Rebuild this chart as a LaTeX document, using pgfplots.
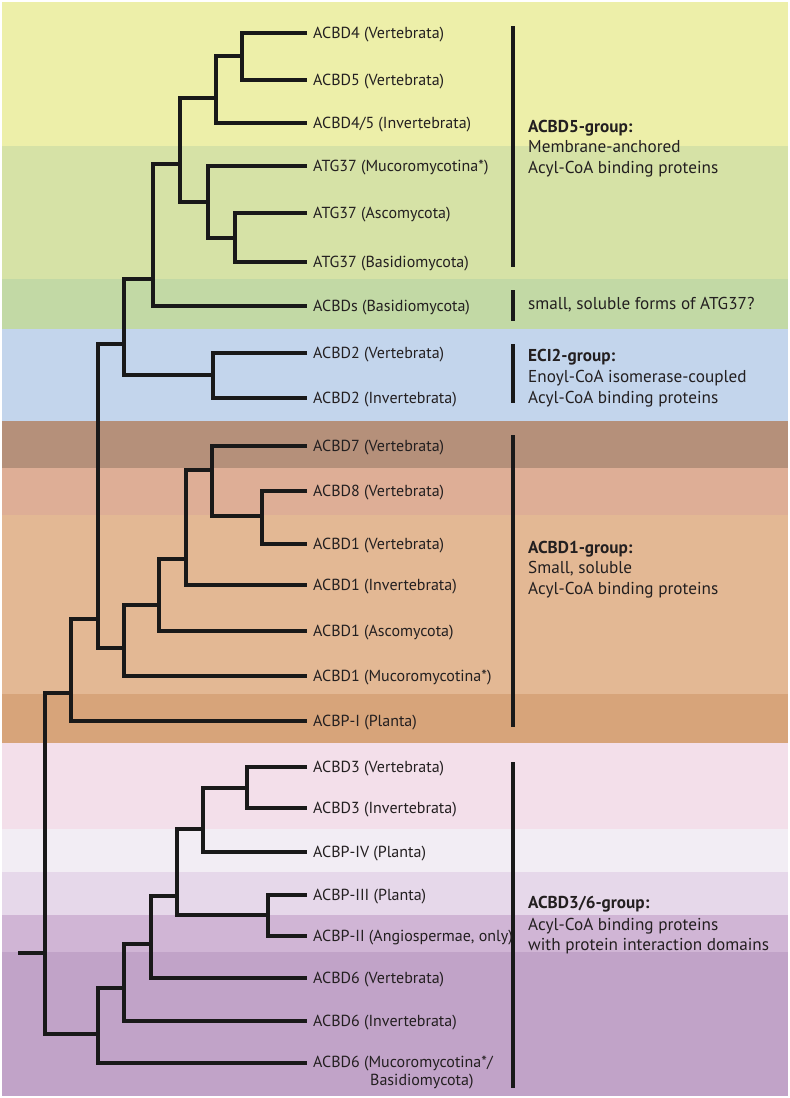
\documentclass[border=0pt]{standalone}
\usepackage{pgfplots}
\pgfplotsset{compat=1.18}
\usepackage{fontspec}
\setmainfont{PT Sans}
\definecolor{cyel}{HTML}{EDEFA9}
\definecolor{cgrA}{HTML}{D6E2A6}
\definecolor{cgrB}{HTML}{C2D9A5}
\definecolor{cblu}{HTML}{C3D5EC}
\definecolor{cbrn}{HTML}{B5907A}
\definecolor{csal}{HTML}{DEAE96}
\definecolor{clor}{HTML}{E3B894}
\definecolor{cora}{HTML}{D7A47A}
\definecolor{cpnk}{HTML}{F3DFEA}
\definecolor{clvA}{HTML}{F2EDF4}
\definecolor{clvB}{HTML}{E6D8EA}
\definecolor{cpuA}{HTML}{D0B5D5}
\definecolor{cpuB}{HTML}{C1A3C8}
\definecolor{ctxt}{HTML}{231F20}
\begin{document}
\begin{tikzpicture}
\begin{axis}[
  x=1pt, y=1pt, y dir=reverse,
  xmin=0, xmax=790, ymin=0, ymax=1098,
  hide axis, clip=false, scale only axis,
  unbounded coords=jump,
]
\path (rel axis cs:0,0) rectangle (rel axis cs:1,1);
% bands
\addplot[draw=none, fill=cyel] coordinates {(2,2)(788,2)(788,146)(2,146)} -- cycle;
\addplot[draw=none, fill=cgrA] coordinates {(2,146)(788,146)(788,279)(2,279)} -- cycle;
\addplot[draw=none, fill=cgrB] coordinates {(2,279)(788,279)(788,329)(2,329)} -- cycle;
\addplot[draw=none, fill=cblu] coordinates {(2,329)(788,329)(788,421)(2,421)} -- cycle;
\addplot[draw=none, fill=cbrn] coordinates {(2,421)(788,421)(788,468)(2,468)} -- cycle;
\addplot[draw=none, fill=csal] coordinates {(2,468)(788,468)(788,515)(2,515)} -- cycle;
\addplot[draw=none, fill=clor] coordinates {(2,515)(788,515)(788,694)(2,694)} -- cycle;
\addplot[draw=none, fill=cora] coordinates {(2,694)(788,694)(788,743)(2,743)} -- cycle;
\addplot[draw=none, fill=cpnk] coordinates {(2,743)(788,743)(788,829)(2,829)} -- cycle;
\addplot[draw=none, fill=clvA] coordinates {(2,829)(788,829)(788,872)(2,872)} -- cycle;
\addplot[draw=none, fill=clvB] coordinates {(2,872)(788,872)(788,915)(2,915)} -- cycle;
\addplot[draw=none, fill=cpuA] coordinates {(2,915)(788,915)(788,952)(2,952)} -- cycle;
\addplot[draw=none, fill=cpuB] coordinates {(2,952)(788,952)(788,1096)(2,1096)} -- cycle;
% tree
\addplot[color=black!90, line width=3.3pt, line join=miter, line cap=butt] coordinates {
(307,33)(242,33)(242,80)(307,80) (nan,nan)
(242,56)(216,56)(216,123)(307,123) (nan,nan)
(216,98)(180,98)(180,202)(208,202) (nan,nan)
(307,166)(208,166)(208,238)(235,238) (nan,nan)
(307,213)(235,213)(235,262)(307,262) (nan,nan)
(180,164)(153,164)(153,306)(307,306) (nan,nan)
(153,279)(124,279)(124,375)(213,375) (nan,nan)
(307,353)(213,353)(213,398)(307,398) (nan,nan)
(124,344)(98,344)(98,648)(124,648) (nan,nan)
(159,605)(124,605)(124,676)(307,676) (nan,nan)
(186,559)(159,559)(159,631)(307,631) (nan,nan)
(212,470)(186,470)(186,585)(307,585) (nan,nan)
(307,446)(212,446)(212,516)(262,516) (nan,nan)
(307,491)(262,491)(262,544)(307,544) (nan,nan)
(98,619)(71,619)(71,721)(307,721) (nan,nan)
(71,693)(45,693)(45,1034)(98,1034) (nan,nan)
(18,953)(45,953) (nan,nan)
(124,988)(98,988)(98,1063)(307,1063) (nan,nan)
(151,944)(124,944)(124,1021)(307,1021) (nan,nan)
(177,896)(151,896)(151,978)(307,978) (nan,nan)
(203,829)(177,829)(177,915)(268,915) (nan,nan)
(247,788)(203,788)(203,852)(307,852) (nan,nan)
(307,767)(247,767)(247,808)(307,808) (nan,nan)
(307,895)(268,895)(268,936)(307,936)
};
% group bars
\addplot[color=black!90, line width=3.1pt] coordinates {
(513,26)(513,267) (nan,nan)
(513,290)(513,321) (nan,nan)
(513,344)(513,403) (nan,nan)
(513,435)(513,727) (nan,nan)
(513,762)(513,1088)
};
% leaf labels
\begin{scope}[every node/.style={anchor=base west, inner sep=0pt, text=ctxt, font=\fontsize{16}{19}\selectfont}]
\node at (axis cs:313,38.5) {ACBD4 (Vertebrata)};
\node at (axis cs:313,85.5) {ACBD5 (Vertebrata)};
\node at (axis cs:313,128.5) {ACBD4/5 (Invertebrata)};
\node at (axis cs:313,171.5) {ATG37 (Mucoromycotina*)};
\node at (axis cs:313,218.5) {ATG37 (Ascomycota)};
\node at (axis cs:313,267.5) {ATG37 (Basidiomycota)};
\node at (axis cs:313,311.5) {ACBDs (Basidiomycota)};
\node at (axis cs:313,358.5) {ACBD2 (Vertebrata)};
\node at (axis cs:313,403.5) {ACBD2 (Invertebrata)};
\node at (axis cs:313,451.5) {ACBD7 (Vertebrata)};
\node at (axis cs:313,496.5) {ACBD8 (Vertebrata)};
\node at (axis cs:313,549.5) {ACBD1 (Vertebrata)};
\node at (axis cs:313,590.5) {ACBD1 (Invertebrata)};
\node at (axis cs:313,636.5) {ACBD1 (Ascomycota)};
\node at (axis cs:313,681.5) {ACBD1 (Mucoromycotina*)};
\node at (axis cs:313,726.5) {ACBP-I (Planta)};
\node at (axis cs:313,772.5) {ACBD3 (Vertebrata)};
\node at (axis cs:313,813.5) {ACBD3 (Invertebrata)};
\node at (axis cs:313,857.5) {ACBP-IV (Planta)};
\node at (axis cs:313,900.5) {ACBP-III (Planta)};
\node at (axis cs:313,941.5) {ACBP-II (Angiospermae, only)};
\node at (axis cs:313,983.5) {ACBD6 (Vertebrata)};
\node at (axis cs:313,1026.5) {ACBD6 (Invertebrata)};
\node at (axis cs:313,1067) {ACBD6 (Mucoromycotina*/};
\node at (axis cs:370,1085) {Basidiomycota)};
\end{scope}
% group texts
\begin{scope}[every node/.style={anchor=base west, inner sep=0pt, text=ctxt, font=\fontsize{17.2}{20}\selectfont}]
\node at (axis cs:528,132) {\bfseries ACBD5-group:};
\node at (axis cs:528,152) {Membrane-anchored};
\node at (axis cs:528,173) {Acyl-CoA binding proteins};
\node at (axis cs:528,309) {small, soluble forms of ATG37?};
\node at (axis cs:528,361) {\bfseries ECI2-group:};
\node at (axis cs:528,382) {Enoyl-CoA isomerase-coupled};
\node at (axis cs:528,403) {Acyl-CoA binding proteins};
\node at (axis cs:528,553) {\bfseries ACBD1-group:};
\node at (axis cs:528,573.5) {Small, soluble};
\node at (axis cs:528,594) {Acyl-CoA binding proteins};
\node at (axis cs:528,908) {\bfseries ACBD3/6-group:};
\node at (axis cs:528,930) {Acyl-CoA binding proteins};
\node at (axis cs:528,950) {with protein interaction domains};
\end{scope}
\end{axis}
\end{tikzpicture}
\end{document}
